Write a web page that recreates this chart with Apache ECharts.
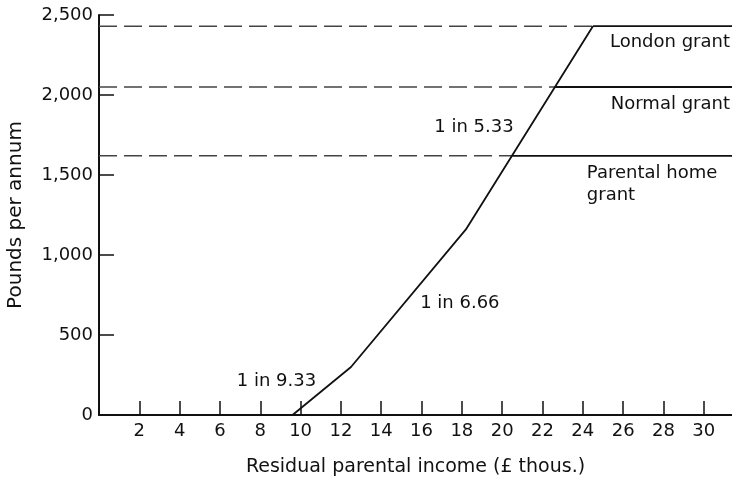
<!DOCTYPE html>
<html>
<head>
<meta charset="utf-8">
<script src="https://cdn.jsdelivr.net/npm/echarts@6/dist/echarts.min.js"></script>
<style>html,body{margin:0;padding:0;background:#fff}#c{width:732px;height:477px}</style>
</head>
<body>
<div id="c"></div>
<script>
// Contribution schedule (income in £ thousands, contribution in £ per annum)
var incomeX = [9.6, 12.5, 18.2, 24.5];
var contributionY = [0, 300, 1160, 2430];
// Grant levels and where the contribution line meets them
var grantNames = ['London grant', 'Normal grant', 'Parental home\ngrant'];
var grantLevels = [2430, 2050, 1620];
var grantMeetX = [24.5, 22.6, 20.5];
var slopeLabels = ['1 in 9.33', '1 in 6.66', '1 in 5.33'];
var xTickValues = [2, 4, 6, 8, 10, 12, 14, 16, 18, 20, 22, 24, 26, 28, 30];
var yTickValues = [0, 500, 1000, 1500, 2000, 2500];
var xMax = 31.4;

var FONT = 'DejaVu Sans';
var INK = '#111111';

var series = [];
series.push({
  type: 'line', data: incomeX.map(function (x, i) { return [x, contributionY[i]]; }),
  symbol: 'none', lineStyle: { color: INK, width: 1.8 }, silent: true, z: 5
});
grantLevels.forEach(function (g, i) {
  series.push({ type: 'line', data: [[0, g], [grantMeetX[i], g]], symbol: 'none',
    lineStyle: { color: '#444', width: 1.6, type: [18, 7] }, silent: true });
  series.push({ type: 'line', data: [[grantMeetX[i], g], [xMax, g]], symbol: 'none',
    lineStyle: { color: INK, width: 1.8 }, silent: true });
});
// text annotations
function ann(v, text, align, extra) {
  var lab = { show: true, formatter: text, align: align || 'center', verticalAlign: 'middle',
    color: INK, opacity: 1, fontFamily: FONT, fontSize: 18, position: 'inside' };
  if (extra) for (var k in extra) lab[k] = extra[k];
  return { value: v, label: lab };
}
series.push({
  type: 'scatter', symbolSize: 0, silent: true,
  itemStyle: { opacity: 1 },
  label: { show: true, color: INK },
  data: [
    ann([8.8, 212], slopeLabels[0]),
    ann([17.9, 700], slopeLabels[1]),
    ann([18.6, 1800], slopeLabels[2]),
    ann([31.3, 2331], grantNames[0], 'right'),
    ann([31.3, 1944], grantNames[1], 'right'),
    ann([24.2, 1444], grantNames[2], 'left', { lineHeight: 22 })
  ]
});

var chart = echarts.init(document.getElementById('c'), null, { renderer: 'canvas' });
chart.setOption({
  animation: false,
  grid: { left: 99, right: 0, top: 15, bottom: 62, outerBoundsMode: 'none', containLabel: false },
  xAxis: {
    type: 'value', min: 0, max: xMax, interval: 2,
    name: 'Residual parental income (£ thous.)', nameLocation: 'middle', nameGap: 43,
    nameTextStyle: { color: INK, fontFamily: FONT, fontSize: 19 },
    axisLine: { show: true, lineStyle: { color: INK, width: 2 } },
    axisTick: { show: true, inside: true, length: 14, customValues: xTickValues, lineStyle: { color: INK, width: 1.5 } },
    axisLabel: { customValues: xTickValues, margin: 7, color: INK, fontFamily: FONT, fontSize: 18 },
    splitLine: { show: false }
  },
  yAxis: {
    type: 'value', min: 0, max: 2500, interval: 500,
    name: 'Pounds per annum', nameLocation: 'middle', nameGap: 73, nameRotate: 90,
    nameTextStyle: { color: INK, fontFamily: FONT, fontSize: 20 },
    axisLine: { show: true, lineStyle: { color: INK, width: 2 } },
    axisTick: { show: true, inside: true, length: 15, customValues: yTickValues, lineStyle: { color: INK, width: 1.5 } },
    axisLabel: { customValues: yTickValues, margin: 6, color: INK, fontFamily: FONT, fontSize: 18,
      formatter: function (v) { return v.toLocaleString('en-GB'); } },
    splitLine: { show: false }
  },
  series: series
});
</script>
</body>
</html>
